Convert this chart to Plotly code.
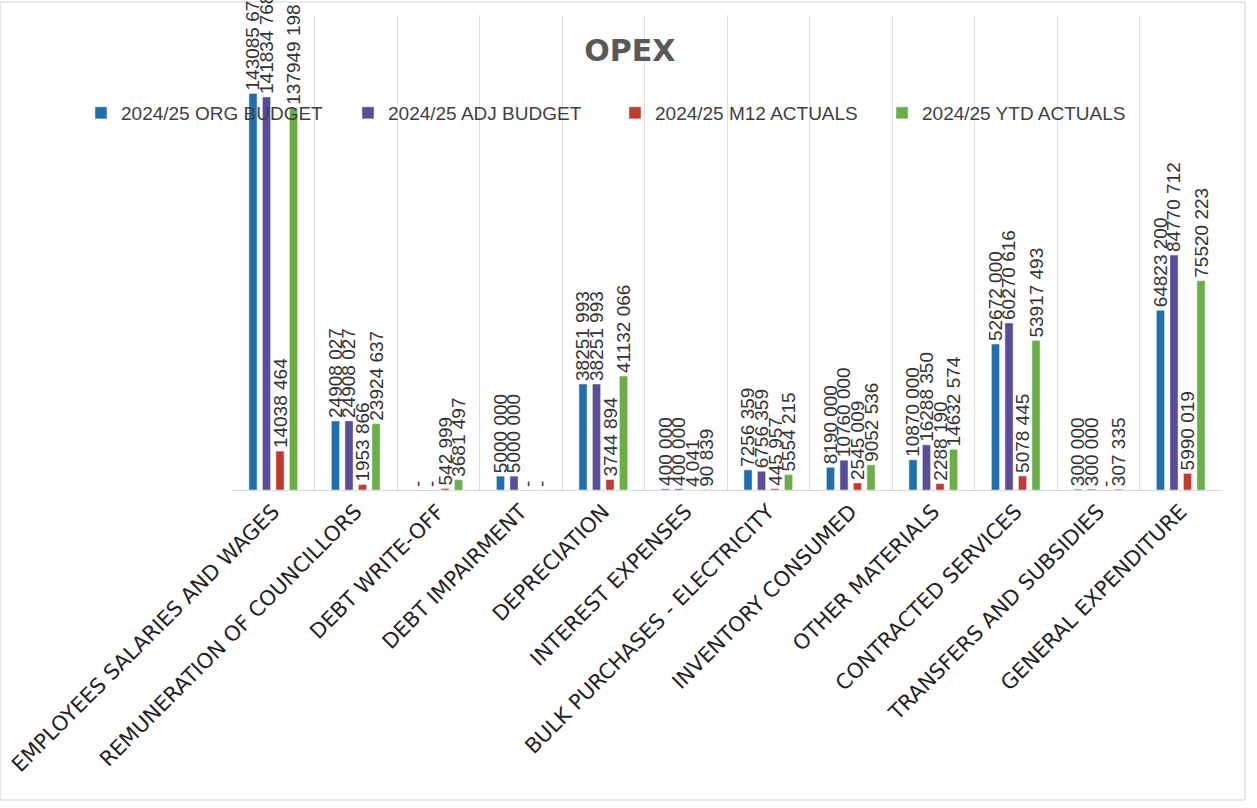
import plotly.graph_objects as go

categories = [
    "EMPLOYEES SALARIES AND WAGES", "REMUNERATION OF COUNCILLORS", "DEBT WRITE-OFF",
    "DEBT IMPAIRMENT", "DEPRECIATION", "INTEREST EXPENSES", "BULK PURCHASES - ELECTRICITY",
    "INVENTORY CONSUMED", "OTHER MATERIALS", "CONTRACTED SERVICES",
    "TRANSFERS AND SUBSIDIES", "GENERAL EXPENDITURE",
]
org_budget = [143085679, 24908027, 0, 5000000, 38251993, 400000, 7256359, 8190000, 10870000, 52672000, 300000, 64823200]
adj_budget = [141834768, 24908027, 0, 5000000, 38251993, 400000, 6756359, 10760000, 16288350, 60270616, 300000, 84770712]
m12_actuals = [14038464, 1953866, 542999, 0, 3744894, 4041, 445957, 2545009, 2288190, 5078445, 0, 5990019]
ytd_actuals = [137949198, 23924637, 3681497, 0, 41132066, 90839, 5554215, 9052536, 14632574, 53917493, 307335, 75520223]

series_names = ["2024/25 ORG BUDGET", "2024/25 ADJ BUDGET", "2024/25 M12 ACTUALS", "2024/25 YTD ACTUALS"]
series_values = [org_budget, adj_budget, m12_actuals, ytd_actuals]
colors = ["#1F6FAD", "#5A4C96", "#C4392F", "#6AAF45"]
legend_ids = ["legend", "legend", "legend2", "legend2"]


def fmt(v):
    if v == 0:
        return "-"
    if v < 1000:
        return str(v)
    return f"{v // 1000} {v % 1000:03d}"


fig = go.Figure()
for name, vals, col, lg in zip(series_names, series_values, colors, legend_ids):
    fig.add_trace(go.Bar(
        x=categories, y=vals, name=name, marker_color=col, legend=lg,
        text=[fmt(v) for v in vals], textposition="outside", textangle=-90,
        constraintext="none", cliponaxis=False,
        textfont=dict(family="Liberation Sans", size=19, color="#333333"),
    ))

legend_common = dict(orientation="h", xanchor="left", y=(490 - 113) / 475, yanchor="middle",
                     entrywidth=222, entrywidthmode="pixels", bgcolor="rgba(0,0,0,0)",
                     font=dict(family="Liberation Sans", size=19, color="#404040"))

fig.update_layout(
    width=1257, height=808,
    paper_bgcolor="white", plot_bgcolor="white",
    margin=dict(l=232, r=35, t=15, b=318, autoexpand=False),
    barmode="group", bargap=0.345, bargroupgap=0.4,
    title=dict(text="<b>OPEX</b>", x=0.501, xanchor="center", y=1 - 50 / 808, yanchor="middle",
               font=dict(family="DejaVu Sans", size=30, color="#595959")),
    legend=dict(x=(81 - 232) / 990, **legend_common),
    legend2=dict(x=(615 - 232) / 990, **legend_common),
    showlegend=True,
)
fig.update_xaxes(
    type="category", tickangle=-45, tickson="boundaries", showgrid=True, gridcolor="#E0E0E0",
    gridwidth=1, showline=True, linecolor="#D9D9D9", ticks="", automargin=False,
    tickfont=dict(family="DejaVu Sans", size=21, color="#222222"),
)
fig.update_yaxes(range=[0, 475 / 2.771 * 1e6], showgrid=False, showticklabels=False,
                 zeroline=False, showline=False, ticks="", automargin=False)

fig.add_shape(type="rect", xref="paper", yref="paper",
              x0=-232 / 990, x1=(1245 - 232) / 990, y0=-(800 - 490) / 475, y1=(490 - 2) / 475,
              line=dict(color="#D0D0D0", width=1), fillcolor="rgba(0,0,0,0)", layer="below")

fig.write_html("out.html")
